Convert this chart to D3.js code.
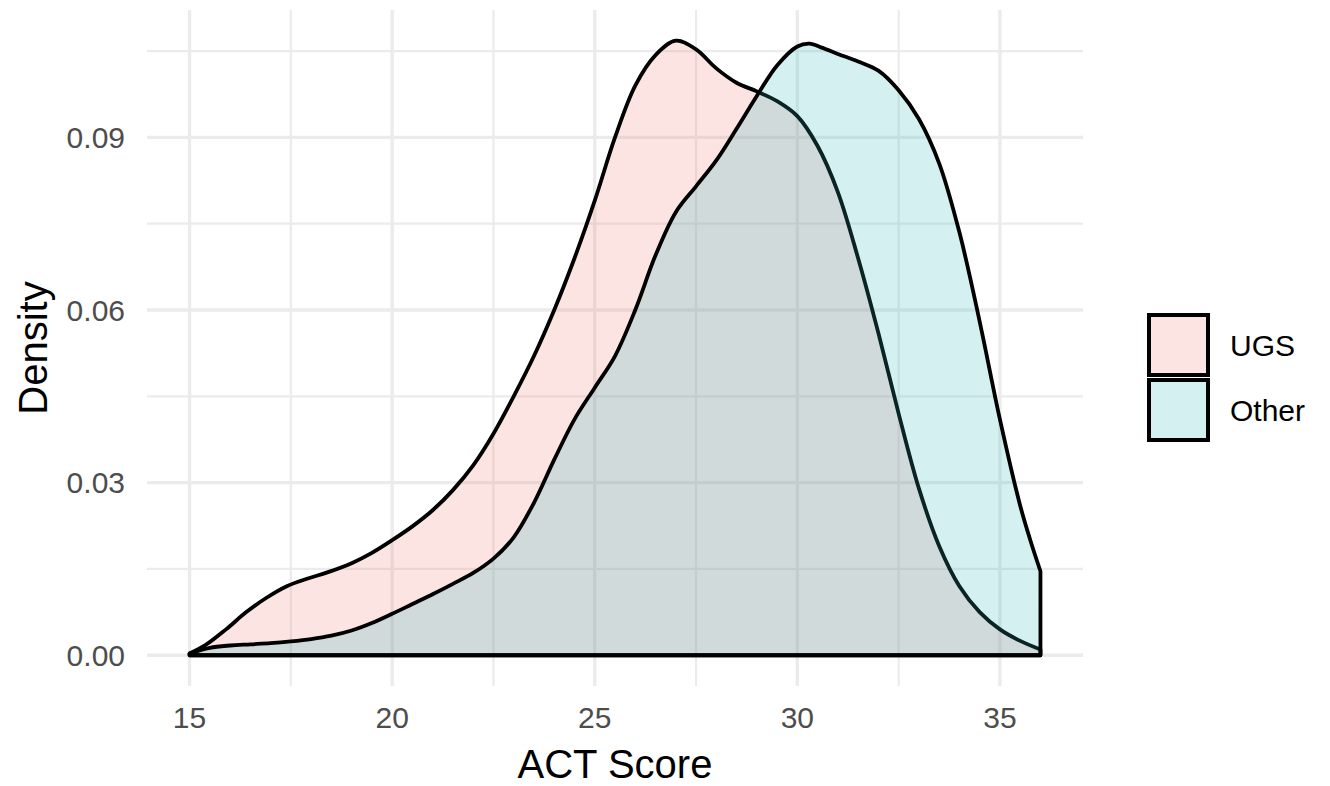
<!DOCTYPE html>
<html>
<head>
<meta charset="utf-8">
<script src="https://cdn.jsdelivr.net/npm/d3@7"></script>
<style>
  html, body { margin: 0; padding: 0; background: #fff; }
  svg { display: block; font-family: "Liberation Sans", Arial, sans-serif; }
</style>
</head>
<body>
<svg id="chart" width="1330" height="786"></svg>
<script>
// ---- Data ----
const groups = ["UGS", "Other"];
const groupColors = ["#F27A72", "#28B4B9"];

const ugsScore = [15.0, 15.4, 15.9, 16.4, 16.9, 17.4, 17.9, 18.4, 19.0, 19.5, 20.0, 20.5, 21.0, 21.5, 22.0, 22.5, 23.0, 23.5, 24.0, 24.5, 25.0, 25.5, 26.0, 26.5, 27.0, 27.5, 28.0, 28.5, 29.0, 29.5, 30.0, 30.5, 31.0, 31.5, 32.0, 32.5, 33.0, 33.5, 34.0, 34.5, 35.0, 35.5, 36.0];
const ugsDensity = [0.0003, 0.0018, 0.0045, 0.0075, 0.0100, 0.0120, 0.0133, 0.0144, 0.0160, 0.0178, 0.0200, 0.0224, 0.0252, 0.0287, 0.0330, 0.0385, 0.0450, 0.0520, 0.0600, 0.0690, 0.0790, 0.0900, 0.0990, 0.1043, 0.1068, 0.1053, 0.1020, 0.0995, 0.0980, 0.0963, 0.0937, 0.0885, 0.0805, 0.0690, 0.0560, 0.0420, 0.0290, 0.0190, 0.0120, 0.0075, 0.0045, 0.0025, 0.0010];

const otherScore = [15.0, 15.5, 16.0, 16.5, 17.0, 17.5, 18.0, 18.5, 19.0, 19.5, 20.0, 20.5, 21.0, 21.5, 22.0, 22.5, 23.0, 23.5, 24.0, 24.5, 25.0, 25.5, 26.0, 26.5, 27.0, 27.5, 28.0, 28.5, 29.0, 29.5, 30.0, 30.3, 30.6, 31.0, 31.5, 32.0, 32.5, 33.0, 33.5, 34.0, 34.5, 35.0, 35.5, 35.75, 36.0];
const otherDensity = [0.0003, 0.0013, 0.0017, 0.0019, 0.0021, 0.0024, 0.0028, 0.0034, 0.0043, 0.0056, 0.0072, 0.0089, 0.0106, 0.0124, 0.0143, 0.0168, 0.0205, 0.0265, 0.0340, 0.0410, 0.0465, 0.0520, 0.0600, 0.0695, 0.0770, 0.0815, 0.0860, 0.0915, 0.0972, 0.1025, 0.1058, 0.1063, 0.1056, 0.1045, 0.1032, 0.1016, 0.0982, 0.0932, 0.0855, 0.0735, 0.0580, 0.0410, 0.0260, 0.0200, 0.0146];

const xMajor = [15, 20, 25, 30, 35];
const xMinor = [17.5, 22.5, 27.5, 32.5];
const yMajor = [0, 0.03, 0.06, 0.09];
const yMinor = [0.015, 0.045, 0.075, 0.105];
const yTickLabels = ["0.00", "0.03", "0.06", "0.09"];

// ---- Layout ----
const svg = d3.select("#chart");
const panel = { left: 147, right: 1083, top: 10, bottom: 686 };

const x = d3.scaleLinear().domain([13.95, 37.05]).range([panel.left, panel.right]);
const y = d3.scaleLinear().domain([-0.00534, 0.11214]).range([panel.bottom, panel.top]);

const gridColor = "#EBEBEB";
const g = svg.append("g");

// minor grid
g.selectAll(".xminor").data(xMinor).enter().append("line")
  .attr("x1", d => x(d)).attr("x2", d => x(d))
  .attr("y1", panel.top).attr("y2", panel.bottom)
  .attr("stroke", gridColor).attr("stroke-width", 2.2);
g.selectAll(".yminor").data(yMinor).enter().append("line")
  .attr("y1", d => y(d)).attr("y2", d => y(d))
  .attr("x1", panel.left).attr("x2", panel.right)
  .attr("stroke", gridColor).attr("stroke-width", 2.2);
// major grid
g.selectAll(".xmajor").data(xMajor).enter().append("line")
  .attr("x1", d => x(d)).attr("x2", d => x(d))
  .attr("y1", panel.top).attr("y2", panel.bottom)
  .attr("stroke", gridColor).attr("stroke-width", 3.3);
g.selectAll(".ymajor").data(yMajor).enter().append("line")
  .attr("y1", d => y(d)).attr("y2", d => y(d))
  .attr("x1", panel.left).attr("x2", panel.right)
  .attr("stroke", gridColor).attr("stroke-width", 3.3);

// ---- Density polygons (full outline) ----
function polygonPath(scores, dens) {
  const pts = scores.map((s, i) => [x(s), y(dens[i])]);
  const line = d3.line().curve(d3.curveCatmullRom.alpha(0.5));
  const top = line(pts);
  const last = scores[scores.length - 1], first = scores[0];
  return top + "L" + x(last) + "," + y(0) + "L" + x(first) + "," + y(0) + "Z";
}

const series = [
  { scores: ugsScore, dens: ugsDensity, color: groupColors[0] },
  { scores: otherScore, dens: otherDensity, color: groupColors[1] }
];
series.forEach(s => {
  svg.append("path")
    .attr("d", polygonPath(s.scores, s.dens))
    .attr("fill", s.color).attr("fill-opacity", 0.2)
    .attr("stroke", "#000").attr("stroke-width", 3.8)
    .attr("stroke-linejoin", "round");
});

// ---- Axis labels ----
const tickColor = "#4D4D4D";
svg.selectAll(".xt").data(xMajor).enter().append("text")
  .attr("x", d => x(d)).attr("y", 728)
  .attr("text-anchor", "middle").attr("font-size", 30).attr("fill", tickColor)
  .text(d => d);
svg.selectAll(".yt").data(yMajor).enter().append("text")
  .attr("x", 125).attr("y", d => y(d) + 10.5)
  .attr("text-anchor", "end").attr("font-size", 30).attr("fill", tickColor)
  .text((d, i) => yTickLabels[i]);

svg.append("text")
  .attr("x", (panel.left + panel.right) / 2).attr("y", 778)
  .attr("text-anchor", "middle").attr("font-size", 40).attr("fill", "#000")
  .text("ACT Score");
svg.append("text")
  .attr("transform", `translate(47,${(panel.top + panel.bottom) / 2}) rotate(-90)`)
  .attr("text-anchor", "middle").attr("font-size", 40).attr("fill", "#000")
  .text("Density");

// ---- Legend ----
const legend = svg.append("g");
groups.forEach((name, i) => {
  const ky = 315 + i * 65;
  legend.append("rect")
    .attr("x", 1149).attr("y", ky).attr("width", 59).attr("height", 60)
    .attr("fill", "#fff").attr("stroke", "#D9D9D9").attr("stroke-width", 1);
  legend.append("rect")
    .attr("x", 1149).attr("y", ky).attr("width", 59).attr("height", 60)
    .attr("fill", groupColors[i]).attr("fill-opacity", 0.2)
    .attr("stroke", "#000").attr("stroke-width", 4);
  legend.append("text")
    .attr("x", 1230).attr("y", ky + 41)
    .attr("font-size", 30).attr("fill", "#000")
    .text(name);
});
</script>
</body>
</html>
